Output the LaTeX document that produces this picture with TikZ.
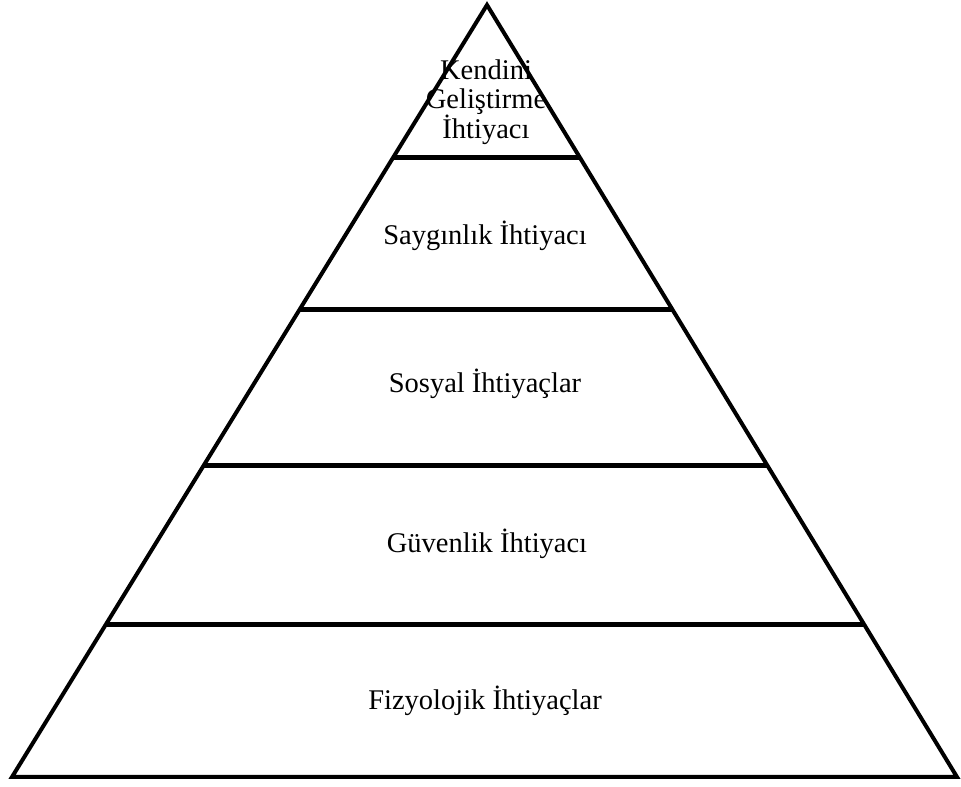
\documentclass[tikz,border=0pt]{standalone}
\usepackage{fontspec}
\setmainfont{Liberation Serif}
\usetikzlibrary{calc}
\tikzset{
    outline/.style={
        draw,
        line width=4pt
    },
    tier/.style={
        draw,
        line width=5pt
    },
    lvl/.style={
        align=center,
        inner sep=0pt,
        font=\fontsize{28.5}{28.5}\selectfont
    }
}
\begin{document}
\begin{tikzpicture}[x=1pt,y=1pt]
\useasboundingbox (0,0) rectangle (961,787);

\coordinate (apex) at (487,782);
\coordinate (bl) at (12,10);
\coordinate (br) at (957,10);

\draw[outline] (apex) -- (bl) -- (br) -- cycle;

% tier boundaries
\foreach \t/\n in {0.197/a,0.394/b,0.597/c,0.802/d}{
    \coordinate (l\n) at ($(apex)!\t!(bl)$);
    \coordinate (r\n) at ($(apex)!\t!(br)$);
    \draw[tier] (l\n) -- (r\n);
}

\node[lvl, anchor=base] (top) at (486,648)
    {Kendini\\Geliştirme\\İhtiyacı};
\node[lvl, anchor=base] (esteem) at (485,542) {Saygınlık İhtiyacı};
\node[lvl, anchor=base] (social) at (485,394) {Sosyal İhtiyaçlar};
\node[lvl, anchor=base] (safety) at (487,234) {Güvenlik İhtiyacı};
\node[lvl, anchor=base] (body) at (485,77) {Fizyolojik İhtiyaçlar};

\end{tikzpicture}
\end{document}
